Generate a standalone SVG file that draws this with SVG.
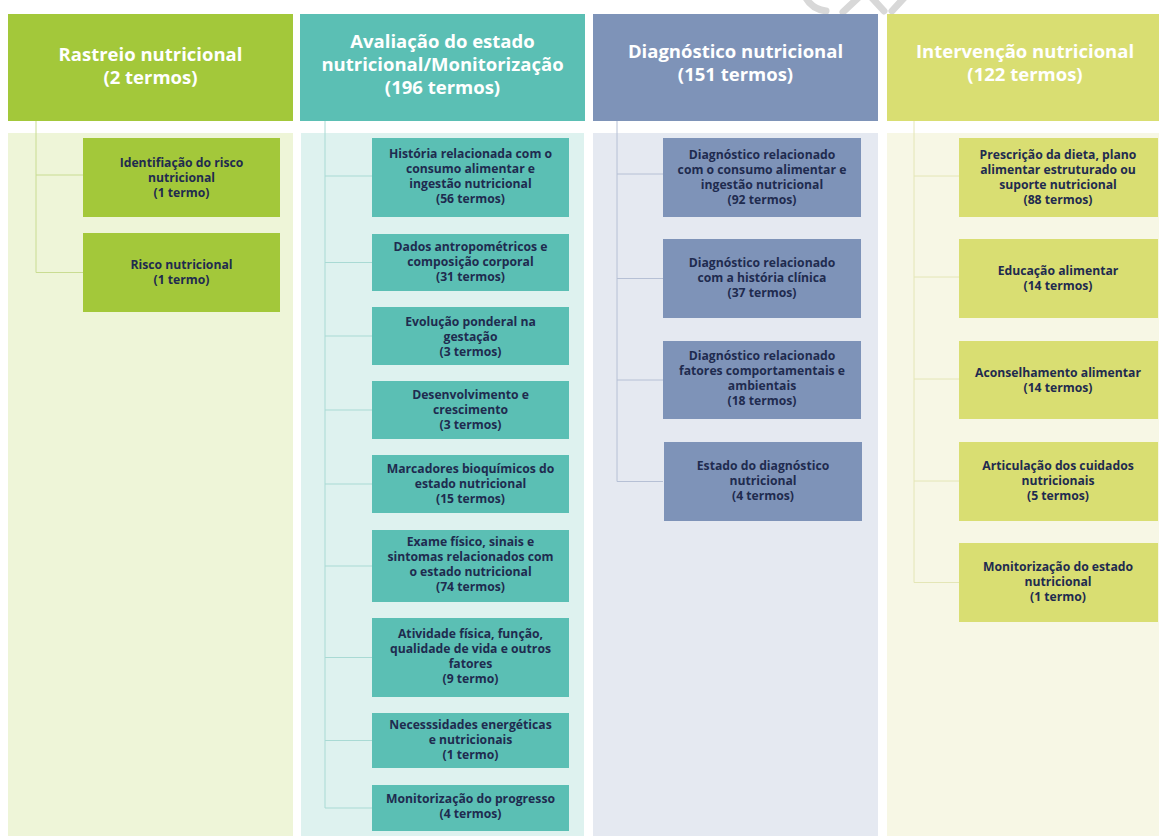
<svg xmlns="http://www.w3.org/2000/svg" width="1159" height="836" viewBox="0 0 1159 836">
<style>
.hd{font-family:"Open Sans","Liberation Sans",Arial,sans-serif;font-weight:bold;font-size:18.5px;fill:#ffffff;text-anchor:middle}
.bx{font-family:"Open Sans","Liberation Sans",Arial,sans-serif;font-weight:bold;font-size:12.2px;fill:#1f2b4f;text-anchor:middle}
.c1{fill:#a3c83a}.c2{fill:#5bbfb4}.c3{fill:#7e93b8}.c4{fill:#d9de72}
.l1{stroke:#c9dc92;stroke-width:1;fill:none}
.l2{stroke:#a9dad4;stroke-width:1;fill:none}
.l3{stroke:#b6c0d5;stroke-width:1;fill:none}
.l4{stroke:#e4e6b6;stroke-width:1;fill:none}
.wm{stroke:#d8d8d8;stroke-width:7;fill:none;stroke-linecap:round}
</style>
<rect width="1159" height="836" fill="#ffffff"/>
<g id="watermark">
<path class="wm" d="M806,-2 Q812,9 826,11"/>
<path class="wm" d="M843,12 L858,-2"/>
<path class="wm" d="M872,-2 L884,11"/>
<path class="wm" d="M892,11 L904,-2"/>
</g>
<g id="backgrounds">
<rect x="8" y="133" width="285" height="703" fill="#eef5d8"/>
<rect x="301" y="133" width="283" height="703" fill="#def2ef"/>
<rect x="593" y="133" width="285" height="703" fill="#e5e9f1"/>
<rect x="887" y="133" width="272" height="703" fill="#f7f7e5"/>
</g>
<g id="connectors">
<path class="l1" d="M36,121 V272.5 M36,175 H83 M36,272.5 H83"/>
<path class="l2" d="M325,121 V808 M325,176 H372 M325,262.5 H372 M325,336 H372 M325,410 H372 M325,484 H372 M325,566 H372 M325,657.5 H372 M325,740.5 H372 M325,808 H372"/>
<path class="l3" d="M617,121 V481.5 M617,174 H663 M617,278.5 H663 M617,380 H663 M617,481.5 H663"/>
<path class="l4" d="M914,121 V582.5 M914,176 H959 M914,277 H959 M914,379 H959 M914,481 H959 M914,582.5 H959"/>
</g>
<g id="h1"><rect class="c1" x="8" y="14" width="285" height="107"/>
<text class="hd" x="150.5" y="61">Rastreio nutricional</text><text class="hd" x="150.5" y="84">(2 termos)</text></g>
<g id="h2"><rect class="c2" x="300" y="14" width="285" height="107"/>
<text class="hd" x="442.5" y="48">Avaliação do estado</text><text class="hd" x="442.5" y="71">nutricional/Monitorização</text><text class="hd" x="442.5" y="94">(196 termos)</text></g>
<g id="h3"><rect class="c3" x="593" y="14" width="285" height="107"/>
<text class="hd" x="735.5" y="58">Diagnóstico nutricional</text><text class="hd" x="735.5" y="81">(151 termos)</text></g>
<g id="h4"><rect class="c4" x="887" y="14" width="272" height="107"/>
<text class="hd" x="1025" y="58">Intervenção nutricional</text><text class="hd" x="1025" y="81">(122 termos)</text></g>

<g id="n1a"><rect class="c1" x="83" y="138" width="197" height="79"/>
<text class="bx" x="181.5" y="167">Identifiação do risco</text><text class="bx" x="181.5" y="182">nutricional</text><text class="bx" x="181.5" y="197">(1 termo)</text></g>
<g id="n1b"><rect class="c1" x="83" y="233" width="197" height="79"/>
<text class="bx" x="181.5" y="269">Risco nutricional</text><text class="bx" x="181.5" y="284">(1 termo)</text></g>

<g id="n2a"><rect class="c2" x="372" y="138" width="197" height="79"/>
<text class="bx" x="470.5" y="158">História relacionada com o</text><text class="bx" x="470.5" y="173">consumo alimentar e</text><text class="bx" x="470.5" y="188">ingestão nutricional</text><text class="bx" x="470.5" y="203">(56 termos)</text></g>
<g id="n2b"><rect class="c2" x="372" y="234" width="197" height="57"/>
<text class="bx" x="470.5" y="251">Dados antropométricos e</text><text class="bx" x="470.5" y="266">composição corporal</text><text class="bx" x="470.5" y="281">(31 termos)</text></g>
<g id="n2c"><rect class="c2" x="372" y="307" width="197" height="58"/>
<text class="bx" x="470.5" y="326">Evolução ponderal na</text><text class="bx" x="470.5" y="341">gestação</text><text class="bx" x="470.5" y="356">(3 termos)</text></g>
<g id="n2d"><rect class="c2" x="372" y="381" width="197" height="58"/>
<text class="bx" x="470.5" y="399">Desenvolvimento e</text><text class="bx" x="470.5" y="414">crescimento</text><text class="bx" x="470.5" y="429">(3 termos)</text></g>
<g id="n2e"><rect class="c2" x="372" y="455" width="197" height="58"/>
<text class="bx" x="470.5" y="473">Marcadores bioquímicos do</text><text class="bx" x="470.5" y="488">estado nutricional</text><text class="bx" x="470.5" y="503">(15 termos)</text></g>
<g id="n2f"><rect class="c2" x="372" y="530" width="197" height="72"/>
<text class="bx" x="470.5" y="546">Exame físico, sinais e</text><text class="bx" x="470.5" y="561">sintomas relacionados com</text><text class="bx" x="470.5" y="576">o estado nutricional</text><text class="bx" x="470.5" y="591">(74 termos)</text></g>
<g id="n2g"><rect class="c2" x="372" y="618" width="197" height="79"/>
<text class="bx" x="470.5" y="638">Atividade física, função,</text><text class="bx" x="470.5" y="653">qualidade de vida e outros</text><text class="bx" x="470.5" y="668">fatores</text><text class="bx" x="470.5" y="683">(9 termo)</text></g>
<g id="n2h"><rect class="c2" x="372" y="713" width="197" height="55"/>
<text class="bx" x="470.5" y="729">Necesssidades energéticas</text><text class="bx" x="470.5" y="744">e nutricionais</text><text class="bx" x="470.5" y="759">(1 termo)</text></g>
<g id="n2i"><rect class="c2" x="372" y="785" width="197" height="46"/>
<text class="bx" x="470.5" y="803">Monitorização do progresso</text><text class="bx" x="470.5" y="818">(4 termos)</text></g>

<g id="n3a"><rect class="c3" x="663" y="138" width="198" height="79"/>
<text class="bx" x="762" y="159">Diagnóstico relacionado</text><text class="bx" x="762" y="174">com o consumo alimentar e</text><text class="bx" x="762" y="189">ingestão nutricional</text><text class="bx" x="762" y="204">(92 termos)</text></g>
<g id="n3b"><rect class="c3" x="663" y="239" width="198" height="79"/>
<text class="bx" x="762" y="267">Diagnóstico relacionado</text><text class="bx" x="762" y="282">com a história clínica</text><text class="bx" x="762" y="297">(37 termos)</text></g>
<g id="n3c"><rect class="c3" x="663" y="341" width="198" height="78"/>
<text class="bx" x="762" y="360">Diagnóstico relacionado</text><text class="bx" x="762" y="375">fatores comportamentais e</text><text class="bx" x="762" y="390">ambientais</text><text class="bx" x="762" y="405">(18 termos)</text></g>
<g id="n3d"><rect class="c3" x="664" y="442" width="198" height="79"/>
<text class="bx" x="763" y="470">Estado do diagnóstico</text><text class="bx" x="763" y="485">nutricional</text><text class="bx" x="763" y="500">(4 termos)</text></g>

<g id="n4a"><rect class="c4" x="959" y="138" width="199" height="79"/>
<text class="bx" x="1058" y="159">Prescrição da dieta, plano</text><text class="bx" x="1058" y="174">alimentar estruturado ou</text><text class="bx" x="1058" y="189">suporte nutricional</text><text class="bx" x="1058" y="204">(88 termos)</text></g>
<g id="n4b"><rect class="c4" x="959" y="239" width="199" height="79"/>
<text class="bx" x="1058" y="275">Educação alimentar</text><text class="bx" x="1058" y="290">(14 termos)</text></g>
<g id="n4c"><rect class="c4" x="959" y="341" width="199" height="78"/>
<text class="bx" x="1058" y="377">Aconselhamento alimentar</text><text class="bx" x="1058" y="392">(14 termos)</text></g>
<g id="n4d"><rect class="c4" x="959" y="442" width="199" height="79"/>
<text class="bx" x="1058" y="470">Articulação dos cuidados</text><text class="bx" x="1058" y="485">nutricionais</text><text class="bx" x="1058" y="500">(5 termos)</text></g>
<g id="n4e"><rect class="c4" x="959" y="543" width="199" height="79"/>
<text class="bx" x="1058" y="571">Monitorização do estado</text><text class="bx" x="1058" y="586">nutricional</text><text class="bx" x="1058" y="601">(1 termo)</text></g>
</svg>
